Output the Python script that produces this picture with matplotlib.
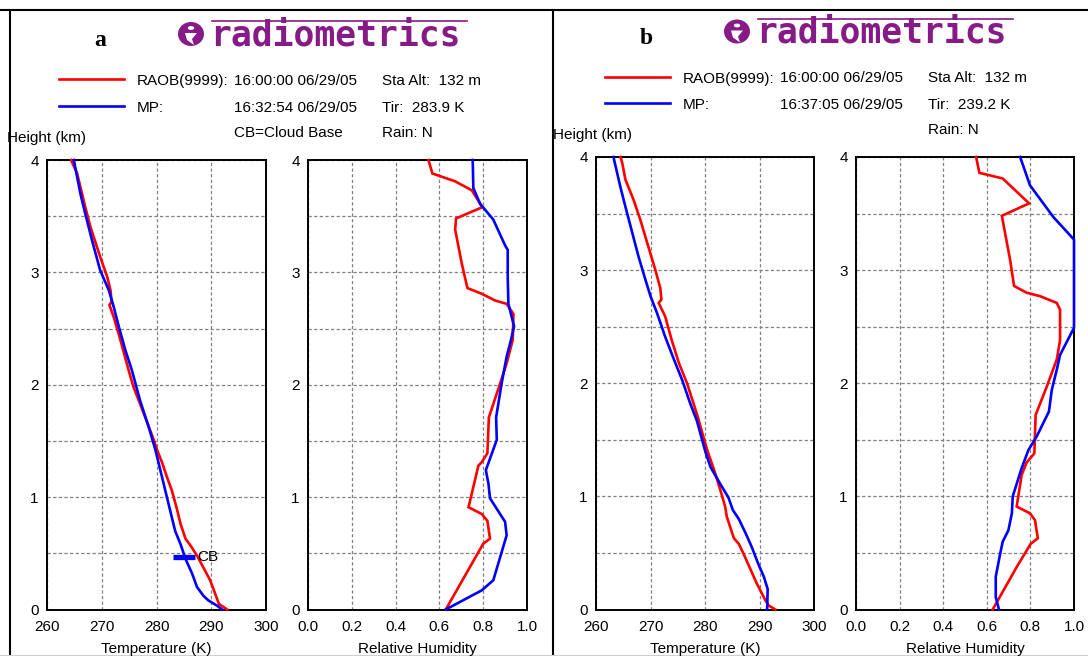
import matplotlib
matplotlib.use("Agg")
import matplotlib.pyplot as plt
from matplotlib.patches import Ellipse, Circle, Polygon, Rectangle
from matplotlib.lines import Line2D

W, H = 1088, 656

# ---------------- data ----------------
temp_ticks = [260, 270, 280, 290, 300]
rh_ticks = [0.0, 0.2, 0.4, 0.6, 0.8, 1.0]
height_ticks = [0, 1, 2, 3, 4]

# Panel a
a_raob_h = [0, 0.05, 0.26, 0.48, 0.57, 0.63, 0.76, 0.90, 1.06, 1.18, 1.31, 1.42, 1.51, 1.83,
            1.98, 2.13, 2.40, 2.60, 2.71, 2.74, 2.84, 2.96, 3.14, 3.41, 3.58, 3.76, 3.88, 4.0]
a_raob_T = [292.9, 291.4, 289.8, 287.4, 286.2, 285.3, 284.4, 283.7, 282.8, 281.9, 281.0, 280.1,
            279.5, 277.0, 275.8, 274.9, 273.4, 272.2, 271.4, 271.8, 271.6, 271.0, 269.7, 267.9,
            267.0, 266.1, 265.5, 264.4]
a_mp_h = [0, 0.036, 0.08, 0.12, 0.20, 0.32, 0.45, 0.58, 0.70, 0.82, 0.94, 1.0, 1.12, 1.30, 1.42,
          1.62, 1.86, 2.13, 2.31, 2.52, 2.69, 2.84, 3.02, 3.29, 3.52, 3.70, 4.0]
a_mp_T = [292.0, 291.0, 289.5, 288.6, 287.4, 286.5, 285.3, 284.4, 283.4, 282.8, 282.2, 281.9,
          281.3, 280.4, 279.8, 278.6, 277.0, 275.5, 274.3, 273.1, 272.2, 271.3, 269.7, 268.2,
          267.0, 266.1, 264.9]
a_raob_rh_h = [0, 0.585, 0.63, 0.79, 0.85, 0.91, 1.28, 1.31, 1.39, 1.71, 2.01, 2.19, 2.40, 2.63,
               2.72, 2.75, 2.81, 2.86, 3.08, 3.38, 3.48, 3.58, 3.73, 3.81, 3.88, 4.0]
a_raob_rh = [0.629, 0.80, 0.831, 0.819, 0.793, 0.733, 0.778, 0.793, 0.819, 0.826, 0.877, 0.907,
             0.935, 0.938, 0.907, 0.854, 0.793, 0.728, 0.702, 0.672, 0.676, 0.796, 0.748, 0.672,
             0.568, 0.550]
a_mp_rh_h = [0, 0.17, 0.26, 0.41, 0.66, 0.78, 0.99, 1.12, 1.24, 1.51, 1.71, 2.01, 2.25, 2.40,
             2.52, 2.72, 2.96, 3.20, 3.24, 3.47, 3.61, 3.75, 4.0]
a_mp_rh = [0.629, 0.793, 0.846, 0.869, 0.907, 0.900, 0.831, 0.824, 0.812, 0.862, 0.859, 0.884,
           0.907, 0.927, 0.941, 0.915, 0.912, 0.912, 0.900, 0.846, 0.786, 0.755, 0.752]
a_cb_h = 0.47
a_cb_T = [283.0, 287.0]

# Panel b
b_raob_h = [0, 0.035, 0.08, 0.23, 0.36, 0.49, 0.58, 0.63, 0.82, 0.91, 1.01, 1.20, 1.41, 1.73,
            2.00, 2.18, 2.38, 2.59, 2.71, 2.74, 2.84, 3.00, 3.24, 3.45, 3.62, 3.80, 3.95, 4.0]
b_raob_T = [292.9, 291.7, 291.1, 289.5, 288.3, 287.1, 286.2, 285.3, 284.0, 283.7, 283.1, 281.9,
            280.4, 278.5, 276.7, 275.2, 273.9, 272.7, 271.5, 272.0, 271.8, 270.9, 269.4, 268.1,
            266.9, 265.4, 264.8, 264.5]
b_mp_h = [0, 0.18, 0.29, 0.40, 0.55, 0.68, 0.80, 0.88, 0.99, 1.11, 1.26, 1.39, 1.67, 1.82, 2.03,
          2.21, 2.41, 2.62, 2.77, 2.91, 3.12, 3.34, 3.56, 3.73, 4.0]
b_mp_T = [291.4, 291.5, 290.8, 289.8, 288.6, 287.4, 286.2, 285.1, 284.3, 282.8, 281.0, 280.1,
          278.5, 277.3, 275.8, 274.3, 272.7, 271.2, 270.0, 269.1, 267.8, 266.6, 265.4, 264.5,
          263.2]
b_raob_rh_h = [0, 0.065, 0.375, 0.58, 0.63, 0.79, 0.85, 0.91, 1.19, 1.30, 1.38, 1.72, 1.97, 2.21,
               2.38, 2.65, 2.71, 2.77, 2.80, 2.86, 3.09, 3.48, 3.59, 3.81, 3.86, 4.0]
b_raob_rh = [0.627, 0.646, 0.737, 0.801, 0.834, 0.821, 0.798, 0.737, 0.760, 0.783, 0.818, 0.824,
             0.875, 0.921, 0.936, 0.936, 0.921, 0.844, 0.783, 0.725, 0.707, 0.669, 0.794, 0.673,
             0.566, 0.551]
b_mp_rh_h = [0, 0.11, 0.29, 0.49, 0.60, 0.70, 0.85, 1.0, 1.11, 1.25, 1.41, 1.53, 1.75, 1.94,
             2.12, 2.25, 2.49, 3.27, 3.47, 3.75, 4.0]
b_mp_rh = [0.656, 0.641, 0.641, 0.661, 0.673, 0.699, 0.715, 0.719, 0.737, 0.760, 0.791, 0.829,
           0.885, 0.898, 0.921, 0.936, 1.0, 1.0, 0.905, 0.798, 0.753]

panel_a_info = {
    "letter": "a",
    "raob_label": "RAOB(9999):", "raob_time": "16:00:00 06/29/05",
    "mp_label": "MP:", "mp_time": "16:32:54 06/29/05",
    "alt": "Sta Alt:  132 m", "tir": "Tir:  283.9 K", "rain": "Rain: N",
    "cb": "CB=Cloud Base",
}
panel_b_info = {
    "letter": "b",
    "raob_label": "RAOB(9999):", "raob_time": "16:00:00 06/29/05",
    "mp_label": "MP:", "mp_time": "16:37:05 06/29/05",
    "alt": "Sta Alt:  132 m", "tir": "Tir:  239.2 K", "rain": "Rain: N",
    "cb": None,
}

RED = "#ff0000"
BLUE = "#0000ff"
PURPLE = "#861a86"
SANS = "Liberation Sans"
FS = 11

fig = plt.figure(figsize=(W / 100, H / 100), dpi=100)
fig.patch.set_facecolor("white")


def fx(x):
    return x / W


def fy(y):
    return 1 - y / H


def add_ax(x0, y0, x1, y1):
    ax = fig.add_axes([fx(x0), fy(y1), (x1 - x0) / W, (y1 - y0) / H])
    for s in ax.spines.values():
        s.set_linewidth(1.4)
        s.set_color("black")
    ax.tick_params(length=0, labelsize=FS, pad=6)
    ax.tick_params(axis="x", pad=7.5)
    ax.set_ylim(0, 4)
    ax.set_yticks([0, 0.5, 1, 1.5, 2, 2.5, 3, 3.5, 4])
    ax.set_yticklabels(["0", "", "1", "", "2", "", "3", "", "4"], family=SANS)
    ax.grid(True, color="#808080", linestyle=(0, (2.6, 1.9)), linewidth=0.9)
    ax.set_axisbelow(True)
    return ax


def temp_axes(ax):
    ax.set_xlim(260, 300)
    ax.set_xticks(temp_ticks)
    ax.set_xticklabels([str(t) for t in temp_ticks], family=SANS)


def rh_axes(ax):
    ax.set_xlim(0, 1)
    ax.set_xticks(rh_ticks)
    ax.set_xticklabels([f"{t:.1f}" for t in rh_ticks], family=SANS)


def plot_line(ax, x, y, color):
    ax.plot(x, y, color=color, lw=1.9, clip_on=False, zorder=3, solid_joinstyle="miter")


def header(off, dy, info):
    # letter
    fig.text(fx(off + 90), fy(46 + dy), info["letter"], family="Liberation Serif",
             weight="bold", fontsize=17, ha="center", va="baseline")
    # logo
    ic_x, ic_y = off + 181, 34 + dy
    fig.patches.append(Ellipse((fx(ic_x), fy(ic_y)), 26 / W, 24 / H, transform=fig.transFigure,
                               facecolor=PURPLE, edgecolor="none"))
    fig.patches.append(Circle((fx(ic_x), fy(ic_y - 6)), 3.2 / W, transform=fig.transFigure,
                              facecolor="white", edgecolor="none"))
    fig.patches.append(Polygon([(fx(ic_x - 6), fy(ic_y - 1)), (fx(ic_x + 6), fy(ic_y - 1)),
                                (fx(ic_x + 1), fy(ic_y + 5)), (fx(ic_x + 3), fy(ic_y + 11)),
                                (fx(ic_x - 4), fy(ic_y + 6))],
                               closed=True, transform=fig.transFigure,
                               facecolor="white", edgecolor="none"))
    fig.text(fx(off + 200), fy(45 + dy), "radiometrics", family="DejaVu Sans Mono",
             weight="bold", fontsize=25, color=PURPLE, ha="left", va="baseline")
    fig.lines.append(Line2D([fx(off + 202), fx(off + 457)], [fy(21 + dy), fy(21 + dy)],
                            transform=fig.transFigure, color=PURPLE, lw=1.2))
    # legend
    fig.lines.append(Line2D([fx(off + 49), fx(off + 114)], [fy(79.3 + dy), fy(79.3 + dy)],
                            transform=fig.transFigure, color=RED, lw=1.9))
    fig.lines.append(Line2D([fx(off + 49), fx(off + 114)], [fy(105.7 + dy), fy(105.7 + dy)],
                            transform=fig.transFigure, color=BLUE, lw=1.9))
    kw = dict(family=SANS, fontsize=FS, ha="left", va="baseline")
    fig.text(fx(off + 127), fy(85 + dy), info["raob_label"], **kw)
    fig.text(fx(off + 223.5), fy(85 + dy), info["raob_time"], **kw)
    fig.text(fx(off + 372), fy(85 + dy), info["alt"], **kw)
    fig.text(fx(off + 127), fy(111.5 + dy), info["mp_label"], **kw)
    fig.text(fx(off + 223.5), fy(111.5 + dy), info["mp_time"], **kw)
    fig.text(fx(off + 372), fy(111.5 + dy), info["tir"], **kw)
    if info["cb"]:
        fig.text(fx(off + 223.5), fy(137 + dy), info["cb"], **kw)
    fig.text(fx(off + 372), fy(137 + dy), info["rain"], **kw)
    fig.text(fx(off - 3), fy(142 + dy), "Height (km)", **kw)


# ---------------- headers ----------------
offA, offB = 10, 556
header(offA, 0, panel_a_info)
header(offB, -2.5, panel_b_info)

# ---------------- panel a ----------------
axA1 = add_ax(47, 160, 266, 609.5)
temp_axes(axA1)
plot_line(axA1, a_raob_T, a_raob_h, RED)
plot_line(axA1, a_mp_T, a_mp_h, BLUE)
axA1.plot(a_cb_T, [a_cb_h, a_cb_h], color=BLUE, lw=3.8, solid_capstyle="butt", zorder=4)
axA1.text(a_cb_T[1] + 0.5, a_cb_h, "CB", family=SANS, fontsize=FS, ha="left", va="center",
          zorder=5)

axA2 = add_ax(308, 160, 527, 609.5)
rh_axes(axA2)
plot_line(axA2, a_raob_rh, a_raob_rh_h, RED)
plot_line(axA2, a_mp_rh, a_mp_rh_h, BLUE)

# ---------------- panel b ----------------
axB1 = add_ax(596, 157, 814, 609.5)
temp_axes(axB1)
plot_line(axB1, b_raob_T, b_raob_h, RED)
plot_line(axB1, b_mp_T, b_mp_h, BLUE)

axB2 = add_ax(856, 157, 1074, 609.5)
rh_axes(axB2)
plot_line(axB2, b_raob_rh, b_raob_rh_h, RED)
plot_line(axB2, b_mp_rh, b_mp_rh_h, BLUE)

# x axis labels at the bottom edge
for ax, lab in [(axA1, "Temperature (K)"), (axA2, "Relative Humidity"),
                (axB1, "Temperature (K)"), (axB2, "Relative Humidity")]:
    bb = ax.get_position()
    fig.text((bb.x0 + bb.x1) / 2, fy(655.5), lab, family=SANS, fontsize=FS,
             ha="center", va="bottom", zorder=12)

# frames of the two screenshots
fig.lines.append(Line2D([0, 1], [fy(9.5), fy(9.5)], transform=fig.transFigure, color="black", lw=1.5))
fig.lines.append(Line2D([fx(10), fx(10)], [fy(9.5), 0], transform=fig.transFigure, color="black", lw=1.5))
fig.lines.append(Line2D([fx(553), fx(553)], [fy(9.5), 0], transform=fig.transFigure, color="black", lw=1.5))
fig.lines.append(Line2D([0, 1], [fy(655), fy(655)], transform=fig.transFigure, color="#d0d0d0",
                        lw=0.8, zorder=11))

fig.savefig("out.png", dpi=100, facecolor="white")
